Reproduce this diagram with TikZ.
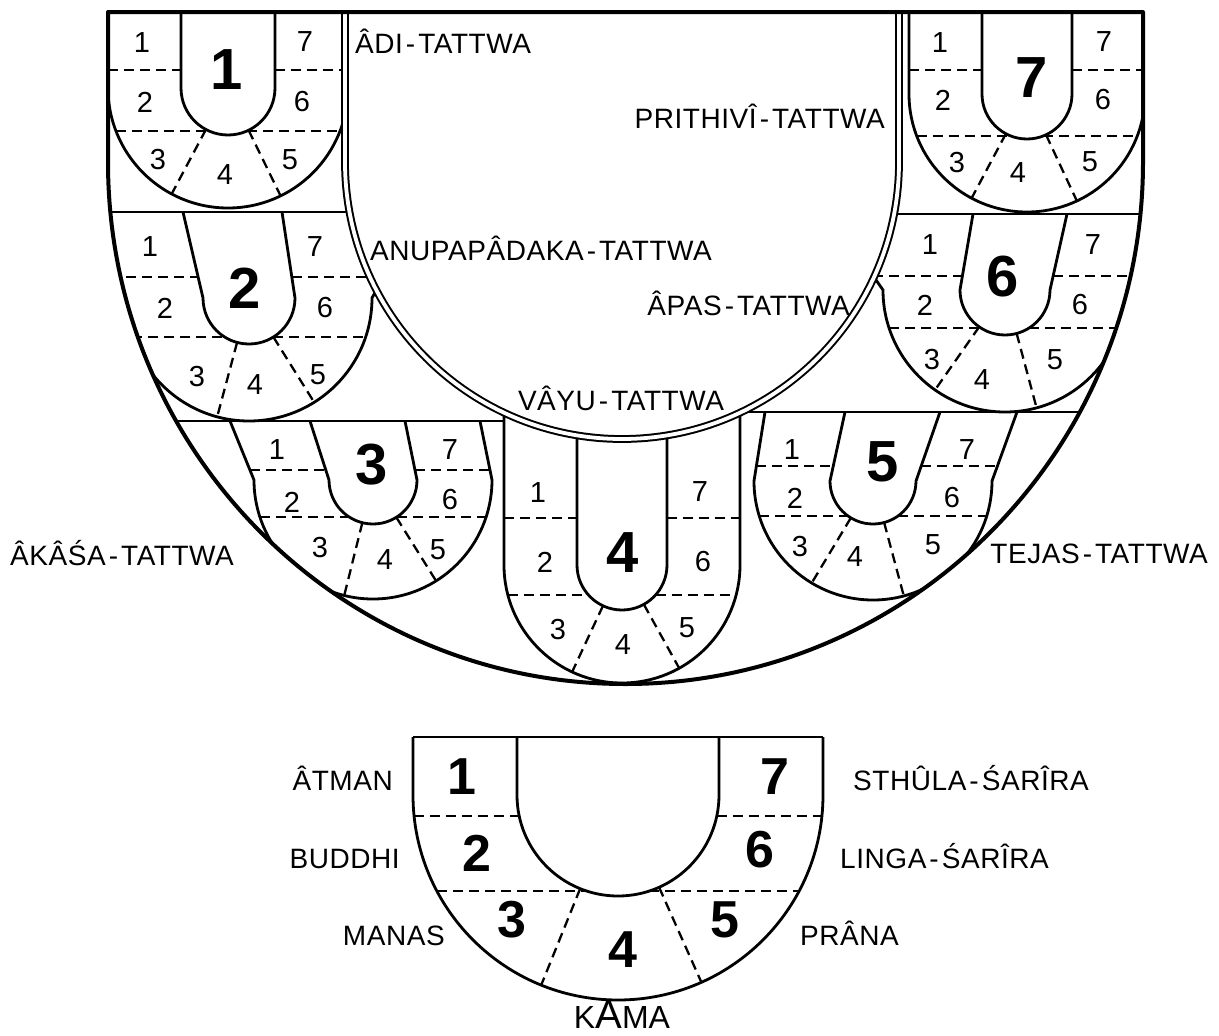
\documentclass[tikz,border=0pt]{standalone}
\usepackage{fontspec}
\setmainfont{Liberation Sans}
\newcommand\hy{\kern3pt-\kern3pt}
\pgfkeys{/seal/.cd,
  cx/.store in=\Scx, cy/.store in=\Scy, r/.store in=\Sr, R/.store in=\SR,
  top/.store in=\Stop, itl/.store in=\Sitl, itr/.store in=\Sitr,
  otl/.store in=\Sotl, otr/.store in=\Sotr, u/.store in=\Su, l/.store in=\Sl,
  a/.store in=\Sa, b/.store in=\Sb}
\newcommand\Sdash[1]{%
  \pgfmathsetmacro\Sd{#1-\Scy}%
  \ifdim\Sd pt>0pt
    \pgfmathsetmacro\SxoL{\Scx-100*sqrt(max((\SR-\Sd)/100*(\SR+\Sd)/100,0))}%
    \pgfmathsetmacro\SxoR{\Scx+100*sqrt(max((\SR-\Sd)/100*(\SR+\Sd)/100,0))}%
    \pgfmathsetmacro\SxiL{\Scx-100*sqrt(max((\Sr-\Sd)/100*(\Sr+\Sd)/100,0))}%
    \pgfmathsetmacro\SxiR{\Scx+100*sqrt(max((\Sr-\Sd)/100*(\Sr+\Sd)/100,0))}%
  \else
    \pgfmathsetmacro\Sf{(\Scy-(#1))/(\Scy-\Stop)}%
    \pgfmathsetmacro\SxoL{\Scx-\SR+(\Sotl-\Scx+\SR)*\Sf}%
    \pgfmathsetmacro\SxiL{\Scx-\Sr+(\Sitl-\Scx+\Sr)*\Sf}%
    \pgfmathsetmacro\SxiR{\Scx+\Sr+(\Sitr-\Scx-\Sr)*\Sf}%
    \pgfmathsetmacro\SxoR{\Scx+\SR+(\Sotr-\Scx-\SR)*\Sf}%
  \fi
  \draw[dsh] (\SxoL,#1) -- (\SxiL,#1) (\SxiR,#1) -- (\SxoR,#1);}
\newcommand\Sradial[1]{%
  \pgfmathsetmacro\Sax{\Scx+\Sr*cos(#1)}\pgfmathsetmacro\Say{\Scy+\Sr*sin(#1)}%
  \pgfmathsetmacro\Sbx{\Scx+\SR*cos(#1)}\pgfmathsetmacro\Sby{\Scy+\SR*sin(#1)}%
  \draw[dsh] (\Sax,\Say) -- (\Sbx,\Sby);}
\newcommand\drawseal[1]{%
  \pgfkeys{/seal/.cd,#1}%
  \draw[sealline] (\Sitl,\Stop) -- (\Scx-\Sr,\Scy) arc[start angle=180,end angle=360,radius=\Sr pt] -- (\Sitr,\Stop);
  \draw[sealline] (\Sotl,\Stop) -- (\Scx-\SR,\Scy) arc[start angle=180,end angle=360,radius=\SR pt] -- (\Sotr,\Stop);
  \Sdash{\Su}\Sdash{\Sl}\Sradial{\Sa}\Sradial{\Sb}}
\begin{document}
\begin{tikzpicture}[x=1pt,y=-1pt,
  sealline/.style={line width=2.8pt, line join=round},
  dsh/.style={line width=2.3pt, dash pattern=on 10pt off 6pt},
  frame/.style={line width=4pt, line join=round},
  sn/.style={font=\fontsize{29}{29}\selectfont, inner sep=0pt},
  bn/.style={font=\fontsize{58}{58}\selectfont\bfseries, inner sep=0pt},
  ln/.style={font=\fontsize{52}{52}\selectfont\bfseries, inner sep=0pt},
  lab/.style={font=\fontsize{28}{28}\selectfont\addfontfeatures{LetterSpace=2}, inner sep=0pt}]
\useasboundingbox (0,0) rectangle (1219,1036);
% seals, clipped to the outer frame
\begin{scope}
\clip (108,12) -- (108,162) arc[start angle=180,end angle=360,x radius=517.5pt,y radius=522pt] -- (1143,12) -- cycle;
\draw[sealline] (108,212) -- (360,212);
\draw[sealline] (885,214) -- (1143,214);
\draw[sealline] (150,421) -- (504,421);
\draw[sealline] (740,412) -- (1100,412);
\drawseal{cx=228,cy=88,r=47,R=120,top=12,itl=181,itr=275,otl=108,otr=348,u=70,l=131,a=118,b=64}
\drawseal{cx=1027,cy=94,r=45,R=118,top=12,itl=982,itr=1072,otl=909,otr=1145,u=70,l=136,a=118,b=65}
\drawseal{cx=249,cy=298,r=46,R=123,top=212,itl=183,itr=282,otl=60,otr=420,u=277,l=337,a=105,b=58}
\drawseal{cx=1005,cy=290,r=45,R=122,top=214,itl=973,itr=1067,otl=830,otr=1180,u=276,l=328,a=125,b=75}
\drawseal{cx=373,cy=480,r=44,R=119,top=421,itl=310,itr=405,otl=230,otr=480,u=470,l=517,a=104,b=58}
\drawseal{cx=622,cy=565,r=45,R=118,top=400,itl=577,itr=667,otl=504,otr=740,u=518,l=595,a=115,b=61}
\drawseal{cx=873,cy=481,r=43,R=119,top=412,itl=845,itr=940,otl=765,otr=1017,u=466,l=516,a=121,b=75}
\end{scope}
% central U
\fill[white] (345,12) -- (345,162) arc[start angle=180,end angle=360,radius=277pt] -- (899,12) -- cycle;
\draw[double distance=3.8pt, line width=2pt] (345,11) -- (345,162) arc[start angle=180,end angle=360,radius=277pt] -- (899,11);
% outer frame
\draw[frame] (108,12) -- (108,162) arc[start angle=180,end angle=360,x radius=517.5pt,y radius=522pt] -- (1143,12) -- cycle;
% numbers seal 1
\node[bn] (b1) at (227,70) {1};
\node[sn] (s1a) at (142,43) {1}; \node[sn] (s1g) at (305,42) {7};
\node[sn] (s1b) at (145,102) {2}; \node[sn] (s1f) at (302,102) {6};
\node[sn] (s1c) at (158,160) {3}; \node[sn] (s1d) at (225,175) {4}; \node[sn] (s1e) at (290,160) {5};
% seal 7
\node[bn] (b7) at (1032,78) {7};
\node[sn] (s7a) at (940,43) {1}; \node[sn] (s7g) at (1104,42) {7};
\node[sn] (s7b) at (943,100) {2}; \node[sn] (s7f) at (1103,100) {6};
\node[sn] (s7c) at (957,163) {3}; \node[sn] (s7d) at (1018,173) {4}; \node[sn] (s7e) at (1090,162) {5};
% seal 2
\node[bn] (b2) at (245,288) {2};
\node[sn] (s2a) at (150,247) {1}; \node[sn] (s2g) at (315,247) {7};
\node[sn] (s2b) at (165,308) {2}; \node[sn] (s2f) at (325,308) {6};
\node[sn] (s2c) at (197,377) {3}; \node[sn] (s2d) at (255,385) {4}; \node[sn] (s2e) at (318,375) {5};
% seal 6
\node[bn] (b6) at (1003,277) {6};
\node[sn] (s6a) at (930,245) {1}; \node[sn] (s6g) at (1093,245) {7};
\node[sn] (s6b) at (925,305) {2}; \node[sn] (s6f) at (1080,305) {6};
\node[sn] (s6c) at (932,360) {3}; \node[sn] (s6d) at (982,380) {4}; \node[sn] (s6e) at (1055,360) {5};
% seal 3
\node[bn] (b3) at (372,465) {3};
\node[sn] (s3a) at (277,450) {1}; \node[sn] (s3g) at (450,450) {7};
\node[sn] (s3b) at (292,502) {2}; \node[sn] (s3f) at (450,500) {6};
\node[sn] (s3c) at (320,548) {3}; \node[sn] (s3d) at (385,560) {4}; \node[sn] (s3e) at (438,550) {5};
% seal 4
\node[bn] (b4) at (623,553) {4};
\node[sn] (s4a) at (538,493) {1}; \node[sn] (s4g) at (700,492) {7};
\node[sn] (s4b) at (545,562) {2}; \node[sn] (s4f) at (703,562) {6};
\node[sn] (s4c) at (558,630) {3}; \node[sn] (s4d) at (623,645) {4}; \node[sn] (s4e) at (687,628) {5};
% seal 5
\node[bn] (b5) at (883,462) {5};
\node[sn] (s5a) at (792,450) {1}; \node[sn] (s5g) at (967,450) {7};
\node[sn] (s5b) at (795,498) {2}; \node[sn] (s5f) at (952,498) {6};
\node[sn] (s5c) at (800,547) {3}; \node[sn] (s5d) at (855,557) {4}; \node[sn] (s5e) at (933,545) {5};
% tattwa labels
\node[lab, anchor=base west] (adi) at (355,53) {ÂDI\hy TATTWA};
\node[lab, anchor=base east] (prith) at (885,128) {PRITHIVÎ\hy TATTWA};
\node[lab, anchor=base west] (anu) at (370,260) {ANUPAPÂDAKA\hy TATTWA};
\node[lab, anchor=base east] (apas) at (850,315) {ÂPAS\hy TATTWA};
\node[lab, anchor=base] (vayu) at (621,410) {VÂYU\hy TATTWA};
\node[lab, anchor=base west] (akasa) at (10,565) {ÂKÂŚA\hy TATTWA};
\node[lab, anchor=base east] (tejas) at (1208,563) {TEJAS\hy TATTWA};
% legend seal
\drawseal{cx=618,cy=795,r=101,R=205,top=737,itl=517,itr=719,otl=413,otr=823,u=816,l=891,a=112,b=66}
\draw[sealline] (413,737) -- (823,737);
\node[ln] (l1) at (462,777) {1}; \node[ln] (l7) at (775,777) {7};
\node[ln] (l2) at (477,853) {2}; \node[ln] (l6) at (760,850) {6};
\node[ln] (l3) at (512,920) {3}; \node[ln] (l4) at (623,950) {4}; \node[ln] (l5) at (725,920) {5};
\node[lab, anchor=base east] (atman) at (393,790) {ÂTMAN};
\node[lab, anchor=base east] (buddhi) at (400,868) {BUDDHI};
\node[lab, anchor=base east] (manas) at (445,945) {MANAS};
\node[lab, anchor=base west] (sthula) at (853,790) {STHÛLA\hy ŚARÎRA};
\node[lab, anchor=base west] (linga) at (840,868) {LINGA\hy ŚARÎRA};
\node[lab, anchor=base west] (prana) at (800,945) {PRÂNA};
\node[font=\fontsize{32}{32}\selectfont, inner sep=0pt, anchor=base] (kama) at (622,1028) {K{\fontsize{40}{40}\selectfont A}MA};
\end{tikzpicture}
\end{document}
